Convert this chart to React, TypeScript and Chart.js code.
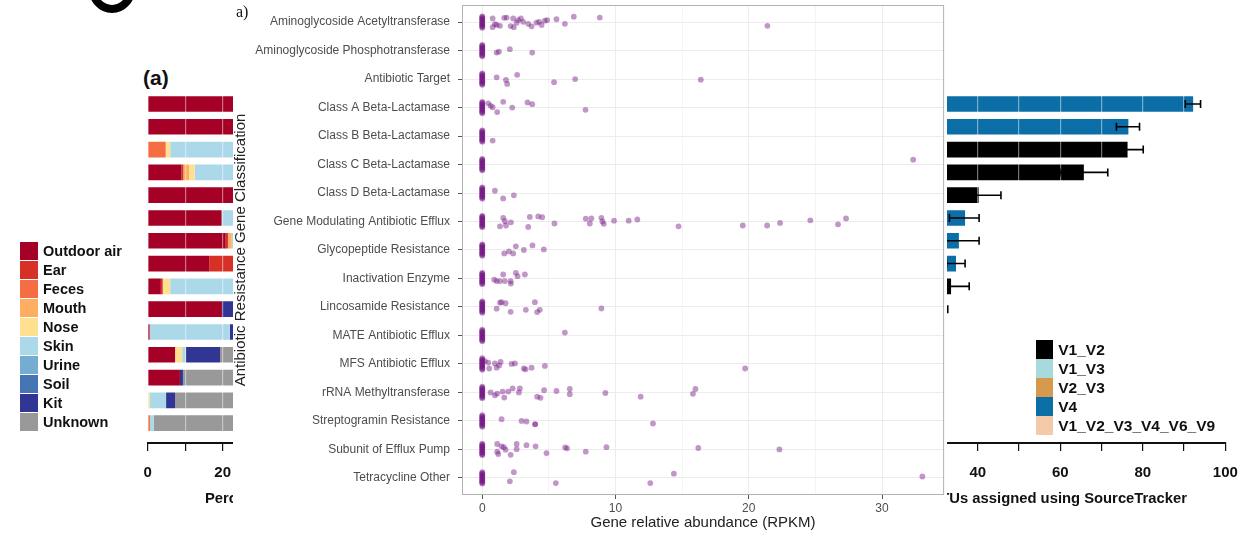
import React, { useEffect, useRef } from 'react';
import { Chart, registerables } from 'chart.js';

Chart.register(...registerables);

const FONT = "'Liberation Sans', Arial, Helvetica, sans-serif";

// ---------- main strip plot ----------
const geneClasses = [
  'Aminoglycoside Acetyltransferase',
  'Aminoglycoside Phosphotransferase',
  'Antibiotic Target',
  'Class A Beta-Lactamase',
  'Class B Beta-Lactamase',
  'Class C Beta-Lactamase',
  'Class D Beta-Lactamase',
  'Gene Modulating Antibiotic Efflux',
  'Glycopeptide Resistance',
  'Inactivation Enzyme',
  'Lincosamide Resistance',
  'MATE Antibiotic Efflux',
  'MFS Antibiotic Efflux',
  'rRNA Methyltransferase',
  'Streptogramin Resistance',
  'Subunit of Efflux Pump',
  'Tetracycline Other',
];

// samples with zero abundance (stacked at 0, vertical jitter)
const zeroJitter = [-0.2, -0.17, -0.14, -0.11, -0.08, -0.05, -0.02, 0.02, 0.05, 0.08, 0.11, 0.14, 0.17, 0.2];

const rpkm: number[][] = [
  [0.78, 0.78, 0.95, 1.08, 1.33, 1.65, 1.83, 2.13, 2.32, 2.37, 2.58, 2.7, 2.9, 3.07, 3.45, 3.7, 4.07, 4.27, 4.45, 4.7, 4.87, 5.57, 6.2, 6.87, 8.82, 21.4],
  [1.08, 1.25, 2.07, 3.75],
  [1.08, 1.78, 1.87, 2.62, 5.39, 6.97, 16.4],
  [0.45, 0.63, 0.78, 1.12, 1.57, 2.25, 3.4, 3.75, 7.75],
  [0.78],
  [32.34],
  [0.95, 1.57, 2.37],
  [1.33, 1.57, 1.7, 1.78, 2.15, 3.45, 3.57, 4.2, 4.5, 5.42, 7.77, 8.07, 8.19, 8.94, 9.02, 9.12, 9.89, 10.99, 11.64, 14.73, 19.55, 21.38, 22.35, 24.62, 26.7, 27.3],
  [1.65, 2.0, 2.32, 2.52, 3.12, 3.77, 4.62],
  [0.9, 1.08, 1.33, 1.57, 1.7, 2.13, 2.15, 2.52, 2.65, 3.2],
  [1.08, 1.33, 1.45, 1.75, 2.13, 3.27, 3.95, 4.12, 4.32, 8.94],
  [6.2],
  [0.2, 0.45, 0.52, 0.95, 1.08, 1.27, 1.38, 2.2, 2.45, 3.12, 3.25, 3.7, 4.7, 19.73],
  [0.63, 0.95, 1.12, 1.53, 1.65, 1.95, 2.28, 2.75, 2.82, 4.12, 4.37, 4.64, 5.57, 6.57, 6.57, 9.24, 11.89, 15.81, 16.0],
  [1.45, 2.95, 3.32, 3.97, 3.97, 12.81],
  [1.12, 1.12, 1.2, 1.45, 1.62, 1.75, 2.13, 2.58, 2.58, 3.32, 4.0, 4.82, 6.22, 6.37, 7.77, 9.32, 16.21, 22.3],
  [2.07, 2.37, 5.52, 12.61, 14.38, 33.03],
];

const rowJitter: number[][] = [
  [-0.13, 0.18, 0.07, 0.1, 0.13, -0.15, -0.16, 0.14, -0.13, 0.18, 0.02, -0.07, -0.13, -0.01, 0.06, 0.15, 0.02, -0.01, 0.1, -0.05, -0.07, -0.1, 0.06, -0.19, -0.16, 0.13],
  [0.07, 0.04, -0.05, 0.07],
  [-0.06, 0.03, 0.17, -0.15, 0.11, 0, 0.02],
  [-0.15, -0.06, -0.01, 0.16, -0.2, 0, -0.18, -0.12, 0.08],
  [0.16],
  [-0.17],
  [-0.08, 0.19, 0.08],
  [0.17, -0.13, -0.01, 0.14, 0.03, 0.19, -0.16, -0.18, -0.15, 0.07, -0.1, 0.07, -0.11, -0.13, 0, 0.08, -0.03, -0.03, -0.07, 0.17, 0.14, 0.14, 0.05, -0.04, 0.1, -0.11],
  [0.12, 0.05, 0.12, -0.13, 0, -0.16, -0.02],
  [0.04, 0.09, 0.09, -0.14, 0.09, 0.09, 0.18, -0.2, -0.08, -0.14],
  [0.06, -0.15, -0.17, -0.13, 0.17, 0.1, -0.17, 0.18, 0.1, 0.05],
  [-0.1],
  [-0.1, -0.05, 0.16, -0.02, 0.13, 0.05, -0.07, 0, -0.02, 0.16, 0.19, 0.13, 0.07, 0.16],
  [0, 0.1, 0.04, -0.03, 0.18, -0.03, -0.14, 0, -0.14, 0.15, 0.19, -0.08, -0.05, -0.12, 0.06, 0.02, 0.15, 0.05, -0.12],
  [-0.06, 0, 0.02, 0.11, 0.12, 0.09],
  [-0.19, 0.08, 0.16, -0.11, -0.08, 0.01, 0.19, -0.19, -0.01, -0.15, -0.11, 0.13, -0.07, -0.04, 0.08, -0.08, -0.05, 0],
  [0.12, -0.2, 0.18, 0.18, -0.15, -0.05],
];

const xTickValues = [0, 5, 10, 15, 20, 25, 30];

// ---------- left background panel (stacked bars) ----------
const sources = ['Outdoor air', 'Ear', 'Feces', 'Mouth', 'Nose', 'Skin', 'Urine', 'Soil', 'Kit', 'Unknown'];
const sourceColors = ['#a50026', '#d73027', '#f46d43', '#fdae61', '#fee090', '#abd9e9', '#74add1', '#4575b4', '#313695', '#999999'];
const outdoorAir = [100, 100, 0, 9, 100, 19.7, 20.8, 16.4, 3.5, 19.8, 0.5, 7.3, 8.6, 0, 0];
const ear = [0, 0, 0, 0.5, 0, 0, 0.6, 83.6, 0.5, 0, 0, 0, 0, 0, 0];
const feces = [0, 0, 4.8, 0, 0, 0, 0, 0, 0, 0, 0, 0, 0, 0, 0.6];
const mouth = [0, 0, 0, 1.5, 0, 0, 1.0, 0, 0, 0, 0, 0, 0, 0, 0];
const nose = [0, 0, 1.2, 1.5, 0, 0, 0, 0, 2.0, 0, 0, 1.9, 0, 0.5, 0];
const skin = [0, 0, 94, 87.5, 0, 80.3, 77.6, 0, 94, 0, 21.4, 1.0, 0, 4.4, 1.0];
const urine = [0, 0, 0, 0, 0, 0, 0, 0, 0, 0, 0, 0, 0, 0, 0];
const soil = [0, 0, 0, 0, 0, 0, 0, 0, 0, 0, 0, 0, 0, 0, 0];
const kit = [0, 0, 0, 0, 0, 0, 0, 0, 0, 80.2, 78.1, 9.1, 0.8, 2.4, 0];
const unknown = [0, 0, 0, 0, 0, 0, 0, 0, 0, 0, 0, 80.7, 90.6, 92.7, 98.4];
const sourceShares = [outdoorAir, ear, feces, mouth, nose, skin, urine, soil, kit, unknown];

// ---------- right background panel (bars with error bars) ----------
const regionGroups = ['V1_V2', 'V1_V3', 'V2_V3', 'V4', 'V1_V2_V3_V4_V6_V9'];
const regionColors = ['#000000', '#a8dadc', '#d69a4e', '#0b6ea6', '#f3cba8'];
const rightGroup = ['V4', 'V4', 'V1_V2', 'V1_V2', 'V1_V2', 'V4', 'V4', 'V4', 'V1_V2', 'V1_V2'];
const rightValue = [92.2, 76.5, 76.3, 65.7, 40.2, 36.9, 35.4, 34.7, 33.5, 28.0];
const rightErrLo = [90.3, 73.6, 72.5, 59.9, 34.8, 33.1, 30.6, 32.4, 29.0, 23.3];
const rightErrHi = [94.0, 79.2, 80.1, 71.5, 45.6, 40.3, 40.3, 36.9, 37.9, 32.7];

const zeroPad = (s: any) => {
  s.paddingLeft = 0;
  s.paddingRight = 0;
  s.paddingTop = 0;
  s.paddingBottom = 0;
};

function MainChart() {
  const ref = useRef<HTMLCanvasElement>(null);
  useEffect(() => {
    const pts: { x: number; y: number }[] = [];
    geneClasses.forEach((_, i) => {
      zeroJitter.forEach((j) => pts.push({ x: 0, y: i + j }));
      rpkm[i].forEach((v, k) => pts.push({ x: v, y: i + rowJitter[i][k] }));
    });
    const borderPlugin = {
      id: 'panelBorder',
      afterDraw(chart: any) {
        const { ctx, chartArea: a } = chart;
        ctx.save();
        ctx.strokeStyle = '#b3b3b3';
        ctx.lineWidth = 1;
        ctx.strokeRect(a.left + 0.5, a.top + 0.5, a.right - a.left - 1, a.bottom - a.top - 1);
        ctx.restore();
      },
    };
    const chart = new Chart(ref.current as HTMLCanvasElement, {
      type: 'scatter',
      data: {
        datasets: [
          {
            data: pts,
            backgroundColor: 'rgba(118,24,132,0.45)',
            borderColor: 'rgba(0,0,0,0)',
            borderWidth: 0,
            pointRadius: 2.9,
            pointHoverRadius: 2.9,
          },
        ],
      },
      options: {
        animation: false,
        responsive: false,
        maintainAspectRatio: false,
        layout: { padding: { top: 5, right: 2, left: 0, bottom: 0 } },
        plugins: { legend: { display: false }, tooltip: { enabled: false } },
        scales: {
          x: {
            type: 'linear',
            min: -1.52,
            max: 34.66,
            afterBuildTicks: (s: any) => {
              s.ticks = xTickValues.map((v) => ({ value: v }));
            },
            afterFit: (s: any) => {
              s.height = 40;
              zeroPad(s);
            },
            border: { display: false },
            grid: {
              color: '#ececec',
              lineWidth: (ctx: any) => (ctx.tick && ctx.tick.value % 10 === 0 ? 1 : 0.6),
              tickLength: 4,
              tickColor: (ctx: any) => (ctx.tick && ctx.tick.value % 10 === 0 ? '#555555' : 'rgba(0,0,0,0)'),
            },
            ticks: {
              autoSkip: false,
              maxRotation: 0,
              padding: 2,
              color: '#4d4d4d',
              font: { size: 12, family: FONT },
              callback: (v: any) => (Number(v) % 10 === 0 ? String(v) : ''),
            },
            title: {
              display: true,
              text: 'Gene relative abundance (RPKM)',
              color: '#222222',
              font: { size: 15, family: FONT },
              padding: { top: 0, bottom: 3 },
            },
          },
          y: {
            type: 'linear',
            reverse: true,
            min: -0.6,
            max: 16.6,
            afterBuildTicks: (s: any) => {
              s.ticks = geneClasses.map((_, i) => ({ value: i }));
            },
            afterFit: (s: any) => {
              s.width = 229;
              zeroPad(s);
            },
            border: { display: false },
            grid: { color: '#ececec', lineWidth: 1, tickLength: 4, tickColor: '#555555' },
            ticks: {
              autoSkip: false,
              padding: 8,
              color: '#4d4d4d',
              font: { size: 12, family: FONT },
              callback: (v: any) => geneClasses[Number(v)] ?? '',
            },
            title: {
              display: true,
              text: 'Antibiotic Resistance Gene Classification',
              color: '#222222',
              font: { size: 15, family: FONT, lineHeight: 1 },
              padding: 0,
            },
          },
        },
      } as any,
      plugins: [borderPlugin],
    });
    return () => chart.destroy();
  }, []);
  return <canvas ref={ref} width={714} height={535} style={{ display: 'block', width: 714, height: 535 }} />;
}

const barXAxis = (extra: any) => ({
  type: 'linear',
  min: 0,
  max: 100,
  afterBuildTicks: (s: any) => {
    s.ticks = [0, 10, 20, 30, 40, 50, 60, 70, 80, 90, 100].map((v) => ({ value: v }));
  },
  afterFit: (s: any) => {
    s.height = 92;
    zeroPad(s);
  },
  border: { display: true, color: '#111111', width: 2, z: 2 },
  grid: { z: 1, color: 'rgba(255,255,255,0.45)', lineWidth: 1.2, tickLength: 8, tickColor: '#111111' },
  ticks: {
    autoSkip: false,
    maxRotation: 0,
    padding: 13,
    color: '#111111',
    font: { size: 15, weight: 'bold', family: FONT },
    callback: (v: any) => (Number(v) % 20 === 0 ? String(v) : ''),
  },
  ...extra,
});

const barYAxis = {
  type: 'linear',
  reverse: true,
  min: -0.6,
  max: 14.87,
  offset: false,
  grid: { offset: false },
  display: false,
  afterFit: zeroPad,
};

function SourceChart() {
  const ref = useRef<HTMLCanvasElement>(null);
  useEffect(() => {
    const chart = new Chart(ref.current as HTMLCanvasElement, {
      type: 'bar',
      data: {
        datasets: sources.map((name, s) => ({
          label: name,
          data: sourceShares[s].map((v, i) => ({ x: v, y: i })),
          backgroundColor: sourceColors[s],
          borderWidth: 0,
          barPercentage: 0.79,
          categoryPercentage: 1,
        })),
      },
      options: {
        indexAxis: 'y',
        animation: false,
        responsive: false,
        maintainAspectRatio: false,
        layout: { padding: { top: 90.3, left: 147.7, right: 17.3, bottom: 0 } },
        plugins: { legend: { display: false }, tooltip: { enabled: false } },
        scales: {
          x: barXAxis({ stacked: true }),
          y: { ...barYAxis, stacked: true },
        },
      } as any,
    });
    return () => chart.destroy();
  }, []);
  return <canvas ref={ref} width={540} height={535} style={{ display: 'block', width: 540, height: 535 }} />;
}

function RegionChart() {
  const ref = useRef<HTMLCanvasElement>(null);
  useEffect(() => {
    const errPlugin = {
      id: 'errBars',
      afterDraw(chart: any) {
        const { ctx } = chart;
        const xs = chart.scales.x;
        const ys = chart.scales.y;
        ctx.save();
        ctx.strokeStyle = '#000000';
        ctx.lineWidth = 1.6;
        rightValue.forEach((_, i) => {
          const y = ys.getPixelForValue(i);
          const x1 = xs.getPixelForValue(rightErrLo[i]);
          const x2 = xs.getPixelForValue(rightErrHi[i]);
          ctx.beginPath();
          ctx.moveTo(x1, y);
          ctx.lineTo(x2, y);
          ctx.moveTo(x1, y - 4);
          ctx.lineTo(x1, y + 4);
          ctx.moveTo(x2, y - 4);
          ctx.lineTo(x2, y + 4);
          ctx.stroke();
        });
        ctx.restore();
      },
    };
    const chart = new Chart(ref.current as HTMLCanvasElement, {
      type: 'bar',
      data: {
        datasets: [
          {
            data: rightValue.map((v, i) => ({ x: v, y: i })),
            backgroundColor: rightGroup.map((g) => regionColors[regionGroups.indexOf(g)]),
            borderWidth: 0,
            barPercentage: 0.79,
            categoryPercentage: 1,
          },
        ],
      },
      options: {
        indexAxis: 'y',
        animation: false,
        responsive: false,
        maintainAspectRatio: false,
        layout: { padding: { top: 90.3, left: 52.9, right: 14.7, bottom: 0 } },
        plugins: { legend: { display: false }, tooltip: { enabled: false } },
        scales: {
          x: barXAxis({}),
          y: barYAxis,
        },
      } as any,
      plugins: [errPlugin],
    });
    return () => chart.destroy();
  }, []);
  return <canvas ref={ref} width={480} height={535} style={{ display: 'block', width: 480, height: 535 }} />;
}

const axisTitleStyle: React.CSSProperties = {
  position: 'absolute',
  top: 489,
  fontSize: 14.8,
  fontWeight: 'bold',
  color: '#111',
  whiteSpace: 'nowrap',
  lineHeight: '18px',
};

export default function App() {
  return (
    <div
      style={{
        position: 'absolute',
        left: 0,
        top: 0,
        width: 1240,
        height: 535,
        overflow: 'hidden',
        background: '#ffffff',
        fontFamily: FONT,
      }}
    >
      {/* fragment of a large glyph at top-left */}
      <div
        style={{
          position: 'absolute',
          left: 88,
          top: -40,
          width: 48,
          height: 53,
          border: '8px solid #000',
          borderRadius: '50%',
          boxSizing: 'border-box',
        }}
      />
      <div style={{ position: 'absolute', left: 143, top: 66, fontSize: 21, fontWeight: 'bold', color: '#111', lineHeight: '24px' }}>
        (a)
      </div>
      <div style={{ position: 'absolute', left: 0, top: 0 }}>
        <SourceChart />
      </div>
      <div style={{ ...axisTitleStyle, left: 205 }}>Percentage of OTUs assigned using SourceTracker</div>
      {sources.map((name, i) => (
        <div key={name} style={{ position: 'absolute', left: 20, top: 241 + i * 19.1, height: 19, display: 'flex', alignItems: 'center' }}>
          <div style={{ width: 18, height: 18, background: sourceColors[i] }} />
          <div style={{ marginLeft: 5, fontSize: 14.5, fontWeight: 'bold', color: '#111', whiteSpace: 'nowrap' }}>{name}</div>
        </div>
      ))}
      <div style={{ position: 'absolute', left: 760, top: 0 }}>
        <RegionChart />
      </div>
      <div style={{ ...axisTitleStyle, right: 53, textAlign: 'right' }}>Percentage of OTUs assigned using SourceTracker</div>
      {regionGroups.map((name, i) => (
        <div key={name} style={{ position: 'absolute', left: 1035.7, top: 340 + i * 19, height: 19, display: 'flex', alignItems: 'center' }}>
          <div style={{ width: 17.6, height: 18.8, background: regionColors[i] }} />
          <div style={{ marginLeft: 5, fontSize: 15.5, fontWeight: 'bold', color: '#111', whiteSpace: 'nowrap' }}>{name}</div>
        </div>
      ))}
      {/* main overlay panel */}
      <div style={{ position: 'absolute', left: 233, top: 0, width: 714, height: 535, background: '#ffffff', zIndex: 5 }}>
        <MainChart />
        <div
          style={{
            position: 'absolute',
            left: 3,
            top: 4,
            fontFamily: "'Liberation Serif', 'DejaVu Serif', serif",
            fontSize: 16,
            lineHeight: '16px',
            color: '#111',
          }}
        >
          a)
        </div>
      </div>
    </div>
  );
}
